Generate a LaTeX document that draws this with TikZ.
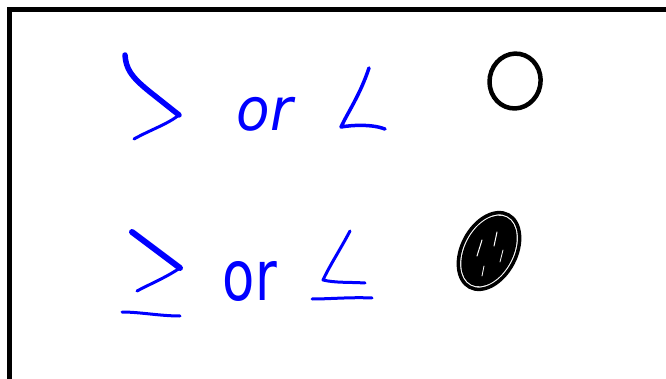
\documentclass[tikz,border=0pt]{standalone}
\usepackage{fontspec}
\usepackage{graphicx}
\setmainfont{DejaVu Sans}
\tikzset{
  pen/.style={draw=blue, line cap=round, line join=round},
  ink/.style={draw=black, line cap=round, line join=round},
  word/.style={inner sep=0pt, outer sep=0pt, text=blue},
}
\begin{document}
\begin{tikzpicture}[x=1pt,y=-1pt]
\useasboundingbox (0,0) rectangle (666,379);
\fill[white] (0,0) rectangle (666,379);
\clip (0,0) rectangle (666,379);
% frame
\draw[line width=4.5pt] (9.5,400) -- (9.5,9.5) -- (700,9.5);

% row 1: > or <
\coordinate (g1a) at (125,55);
\coordinate (g1t) at (179,115);
\coordinate (g1e) at (134,139);
\draw[pen, line width=5.5pt] (g1a) .. controls (126,68) and (130,76) .. (150,92) -- (g1t);
\draw[pen, line width=3pt] (g1t) .. controls (168,124) and (150,130) .. (g1e);
\node[word, anchor=center] (or1) at (265,114) {\resizebox*{56pt}{34pt}{\itshape or}};
\coordinate (l1a) at (369,68);
\coordinate (l1c) at (341,127);
\coordinate (l1e) at (385,129);
\draw[pen, line width=3.5pt] (l1a) .. controls (360,95) and (348,112) .. (l1c) .. controls (352,125) and (372,124) .. (l1e);
\coordinate (c1) at (515,81);
\draw[ink, line width=4.5pt, rotate around={-10:(c1)}] (c1) ellipse [x radius=25.5pt, y radius=27.5pt];

% row 2: >= or <=
\coordinate (g2a) at (132,232);
\coordinate (g2t) at (180,268);
\coordinate (g2e) at (137,291);
\draw[pen, line width=6pt] (g2a) -- (g2t);
\draw[pen, line width=3pt] (g2t) .. controls (165,278) and (150,284) .. (g2e);
\coordinate (u2a) at (122,312);
\coordinate (u2b) at (180,316);
\draw[pen, line width=3pt] (u2a) .. controls (140,312) and (160,316) .. (u2b);
\node[word, anchor=center] (or2) at (250,281) {\resizebox*{54pt}{40pt}{or}};
\coordinate (l2a) at (350,231);
\coordinate (l2c) at (323,280);
\coordinate (l2e) at (365,283);
\draw[pen, line width=3pt] (l2a) .. controls (340,250) and (330,265) .. (l2c) .. controls (335,283) and (350,282) .. (l2e);
\coordinate (u3a) at (312,299);
\coordinate (u3b) at (372,298);
\draw[pen, line width=3pt] (u3a) .. controls (330,299) and (350,297) .. (u3b);
\coordinate (c2) at (489,251);
\draw[ink, line width=3.5pt, rotate around={62:(c2)}] (c2) ellipse [x radius=41pt, y radius=27pt];
\fill[black, rotate around={62:(c2)}] (c2) ellipse [x radius=38pt, y radius=24pt];
\draw[white, line width=1pt, line cap=round] (482,240) -- (477,256);
\draw[white, line width=1pt, line cap=round] (497,232) -- (494,246);
\draw[white, line width=0.8pt, line cap=round] (484,266) -- (482,276);
\draw[white, line width=0.8pt, line cap=round] (503,250) -- (500,262);
\end{tikzpicture}
\end{document}
